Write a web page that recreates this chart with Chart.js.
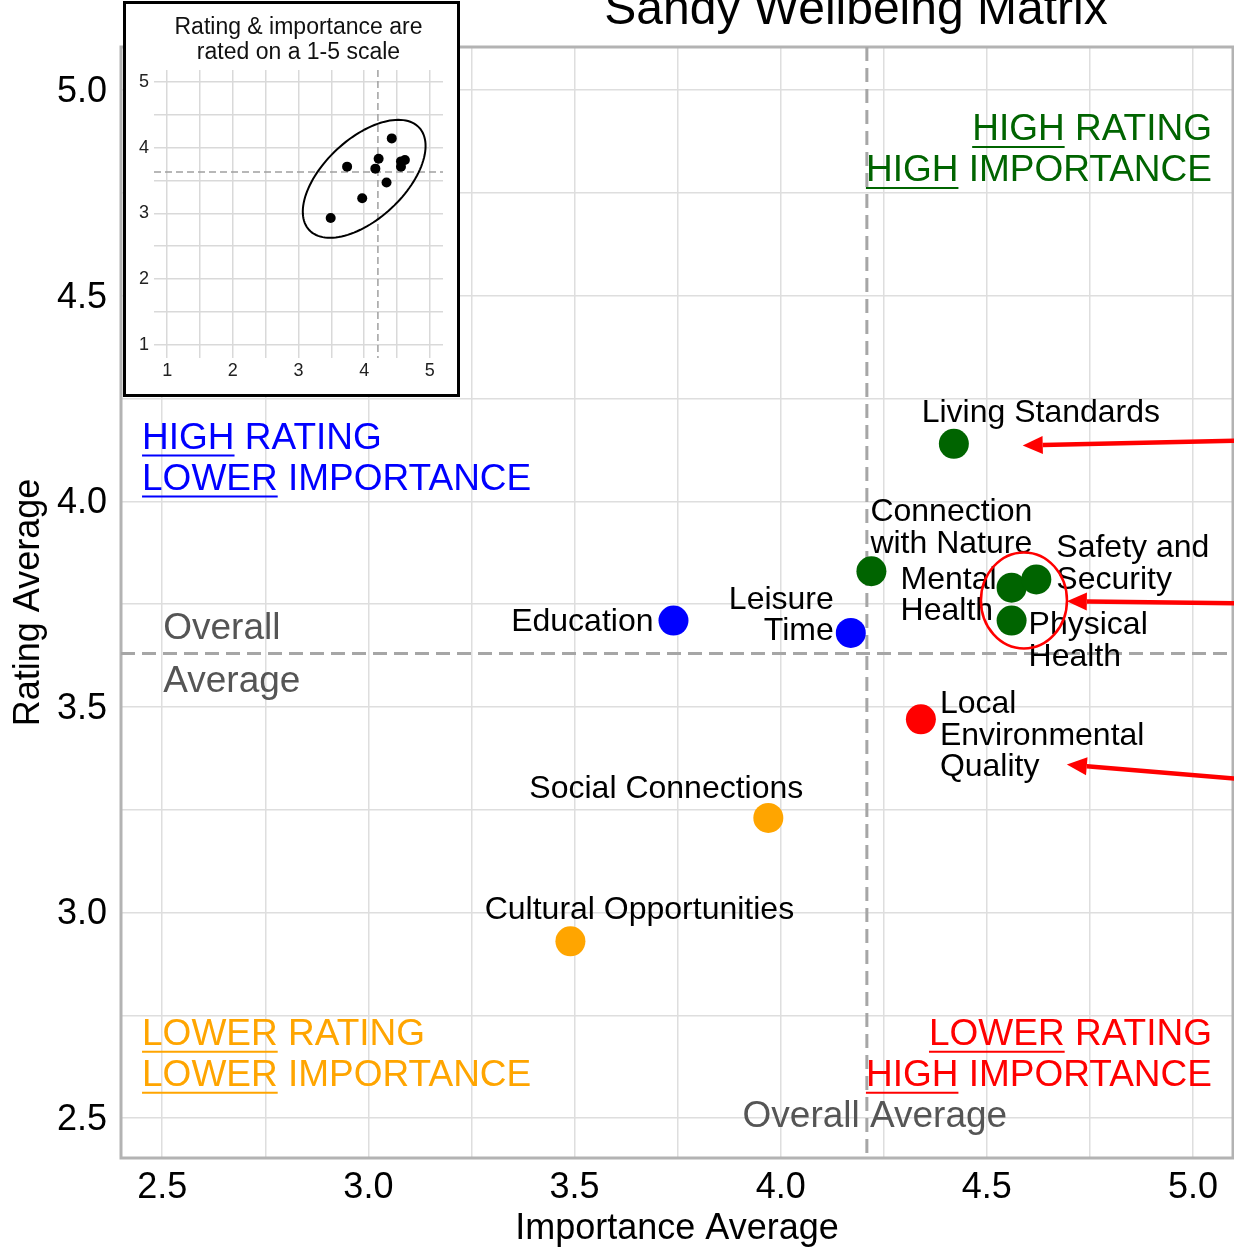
<!DOCTYPE html>
<html>
<head>
<meta charset="utf-8">
<title>Sandy Wellbeing Matrix</title>
<script src="https://cdn.jsdelivr.net/npm/chart.js@4.4.1/dist/chart.umd.min.js"></script>
<style>
  body { margin: 0; background: #fff; }
  #wrap { position: relative; width: 1234px; height: 1248px; }
  #inset { position: absolute; left: 123px; top: 1px; width: 337px; height: 396px;
           box-sizing: border-box; border: 3px solid #000; background: #fff; }
  canvas { display: block; }
</style>
</head>
<body>
<div id="wrap">
  <canvas id="matrixChart" width="1234" height="1248"></canvas>
  <div id="inset"><canvas id="insetChart" width="331" height="390"></canvas></div>
</div>
<script>
const FONT = "'Liberation Sans', Arial, Helvetica, sans-serif";

// values
const categories = ['Living Standards', 'Connection with Nature', 'Mental Health', 'Safety and Security',
  'Physical Health', 'Education', 'Leisure Time', 'Local Environmental Quality',
  'Social Connections', 'Cultural Opportunities'];
const importanceAvg = [4.42, 4.22, 4.56, 4.62, 4.56, 3.74, 4.17, 4.34, 3.97, 3.49];
const ratingAvg     = [4.14, 3.83, 3.79, 3.81, 3.71, 3.71, 3.68, 3.47, 3.23, 2.93];
const axisTickLabels = ['2.5', '3.0', '3.5', '4.0', '4.5', '5.0'];
const insetTickLabels = ['1', '2', '3', '4', '5'];

const mean = arr => arr.reduce((s, v) => s + v, 0) / arr.length;
const overallImportance = mean(importanceAvg);
const overallRating = mean(ratingAvg);

const GREEN = '#006400', BLUE = '#0000ff', ORANGE = '#ffa500', RED = '#ff0000';
function quadColor(i) {
  const hiImp = importanceAvg[i] >= overallImportance;
  const hiRate = ratingAvg[i] >= overallRating;
  if (hiImp && hiRate) return GREEN;
  if (!hiImp && hiRate) return BLUE;
  if (!hiImp && !hiRate) return ORANGE;
  return RED;
}

// label placement (pixel offsets from each point)
const pointLabels = {
  'Living Standards': { lines: ['Living Standards'], dx: 87, dy: -31, align: 'center' },
  'Connection with Nature': { lines: ['Connection', 'with Nature'], dx: -1, dy: -59, align: 'left' },
  'Mental Health': { lines: ['Mental', 'Health'], dx: -111, dy: -8, align: 'left' },
  'Safety and Security': { lines: ['Safety and', 'Security'], dx: 20, dy: -31, align: 'left' },
  'Physical Health': { lines: ['Physical', 'Health'], dx: 17, dy: 5, align: 'left' },
  'Education': { lines: ['Education'], dx: -20, dy: 2, align: 'right' },
  'Leisure Time': { lines: ['Leisure', 'Time'], dx: -17, dy: -33, align: 'right' },
  'Local Environmental Quality': { lines: ['Local', 'Environmental', 'Quality'], dx: 19, dy: -15, align: 'left' },
  'Social Connections': { lines: ['Social Connections'], dx: -102, dy: -29, align: 'center' },
  'Cultural Opportunities': { lines: ['Cultural Opportunities'], dx: 69, dy: -31, align: 'center' }
};

const quadrantNotes = [
  { color: GREEN, align: 'right', x: 5.046, y: 4.903, lines: [['HIGH', ' RATING'], ['HIGH', ' IMPORTANCE']] },
  { color: BLUE, align: 'left', x: 2.451, y: 4.153, lines: [['HIGH', ' RATING'], ['LOWER', ' IMPORTANCE']] },
  { color: ORANGE, align: 'left', x: 2.451, y: 2.703, lines: [['LOWER', ' RATING'], ['LOWER', ' IMPORTANCE']] },
  { color: RED, align: 'right', x: 5.046, y: 2.703, lines: [['LOWER', ' RATING'], ['HIGH', ' IMPORTANCE']] }
];

const arrows = [
  { from: [5.12, 4.148], to: [4.587, 4.136] },
  { from: [5.12, 3.752], to: [4.694, 3.757] },
  { from: [5.12, 3.324], to: [4.694, 3.360] }
];
const ring = { x: 4.59, y: 3.759, rx: 43, ry: 48 };
const insetEllipse = { cx: 4.00, cy: 3.525, u: [0.837, 0.779], v: [0.416, -0.445] };

Chart.defaults.font.family = FONT;
Chart.defaults.color = '#000';

const points = categories.map((c, i) => ({ x: importanceAvg[i], y: ratingAvg[i] }));

function tickCb(list) {
  return function (value) {
    const lbl = Number(value).toFixed(1);
    return Math.abs(value * 2 - Math.round(value * 2)) < 1e-6 && list.includes(lbl) ? lbl : '';
  };
}

// fixed axis sizes, no extra padding for edge labels
function fixSize(prop, size) {
  return s => {
    s[prop] = size;
    s.paddingLeft = 0; s.paddingRight = 0; s.paddingTop = 0; s.paddingBottom = 0;
  };
}

const matrixDecor = {
  id: 'matrixDecor',
  beforeDatasetsDraw(chart) {
    const { ctx, chartArea: a, scales: { x, y } } = chart;
    const ax = x.getPixelForValue(overallImportance);
    const ay = y.getPixelForValue(overallRating);
    ctx.save();
    ctx.strokeStyle = '#b3b3b3';
    ctx.lineWidth = 3;
    ctx.strokeRect(a.left, a.top, a.right - a.left, a.bottom - a.top);

    ctx.strokeStyle = '#a6a6a6';
    ctx.lineWidth = 3;
    ctx.setLineDash([14, 7]);
    ctx.beginPath();
    ctx.moveTo(ax, a.top); ctx.lineTo(ax, a.bottom);
    ctx.moveTo(a.left, ay); ctx.lineTo(a.right, ay);
    ctx.stroke();
    ctx.setLineDash([]);

    // overall average captions
    ctx.fillStyle = '#555';
    ctx.font = '37px ' + FONT;
    ctx.textBaseline = 'middle';
    ctx.textAlign = 'left';
    const lx = x.getPixelForValue(2.5) + 1;
    ctx.fillText('Overall', lx, ay - 25);
    ctx.fillText('Average', lx, ay + 28);
    ctx.textAlign = 'center';
    ctx.fillText('Overall Average', ax + 8, y.getPixelForValue(2.5) - 1);

    // quadrant notes
    quadrantNotes.forEach(n => {
      ctx.fillStyle = n.color;
      ctx.strokeStyle = n.color;
      ctx.lineWidth = 2;
      ctx.textAlign = 'left';
      const px = x.getPixelForValue(n.x);
      const py = y.getPixelForValue(n.y);
      n.lines.forEach((parts, i) => {
        const full = parts.join('');
        const w = ctx.measureText(full).width;
        const sx = n.align === 'right' ? px - w : px;
        const ly = py + i * 41;
        ctx.fillText(full, sx, ly);
        const uw = ctx.measureText(parts[0]).width;
        ctx.beginPath();
        ctx.moveTo(sx, ly + 17);
        ctx.lineTo(sx + uw, ly + 17);
        ctx.stroke();
      });
    });

    // point labels
    ctx.fillStyle = '#000';
    ctx.font = '32px ' + FONT;
    categories.forEach((c, i) => {
      const l = pointLabels[c];
      const px = x.getPixelForValue(importanceAvg[i]) + l.dx;
      const py = y.getPixelForValue(ratingAvg[i]) + l.dy;
      ctx.textAlign = l.align;
      l.lines.forEach((t, k) => ctx.fillText(t, px, py + k * 31.5));
    });
    ctx.restore();
  },
  afterDatasetsDraw(chart) {
    const { ctx, scales: { x, y } } = chart;
    ctx.save();
    ctx.strokeStyle = RED;
    ctx.lineWidth = 2.5;
    ctx.beginPath();
    ctx.ellipse(x.getPixelForValue(ring.x), y.getPixelForValue(ring.y), ring.rx, ring.ry, 0, 0, Math.PI * 2);
    ctx.stroke();

    ctx.fillStyle = RED;
    ctx.lineWidth = 4.5;
    arrows.forEach(ar => {
      const x0 = x.getPixelForValue(ar.from[0]), y0 = y.getPixelForValue(ar.from[1]);
      const x1 = x.getPixelForValue(ar.to[0]), y1 = y.getPixelForValue(ar.to[1]);
      const ang = Math.atan2(y1 - y0, x1 - x0);
      const head = 20, half = 9;
      const bx = x1 - head * Math.cos(ang), by = y1 - head * Math.sin(ang);
      ctx.beginPath();
      ctx.moveTo(x0, y0); ctx.lineTo(bx, by);
      ctx.stroke();
      ctx.beginPath();
      ctx.moveTo(x1, y1);
      ctx.lineTo(bx + half * Math.sin(ang), by - half * Math.cos(ang));
      ctx.lineTo(bx - half * Math.sin(ang), by + half * Math.cos(ang));
      ctx.closePath();
      ctx.fill();
    });
    ctx.restore();
  },
  afterDraw(chart) {
    const ctx = chart.ctx;
    ctx.save();
    ctx.fillStyle = '#000';
    ctx.font = '48px ' + FONT;
    ctx.textAlign = 'center';
    ctx.textBaseline = 'alphabetic';
    ctx.fillText('Sandy Wellbeing Matrix', 856, 24);
    ctx.restore();
  }
};

new Chart(document.getElementById('matrixChart'), {
  type: 'scatter',
  data: {
    datasets: [{
      data: points,
      backgroundColor: categories.map((c, i) => quadColor(i)),
      pointRadius: 15,
      pointHoverRadius: 15,
      borderWidth: 0
    }]
  },
  options: {
    responsive: false,
    animation: false,
    devicePixelRatio: 1,
    events: [],
    layout: { autoPadding: false, padding: { top: 47, right: 1, left: 0, bottom: 0 } },
    plugins: { legend: { display: false }, tooltip: { enabled: false } },
    scales: {
      x: {
        type: 'linear', min: 2.4, max: 5.097,
        ticks: { stepSize: 0.25, includeBounds: false, autoSkip: false, maxRotation: 0, padding: 8,
                 font: { size: 36 }, color: '#000', callback: tickCb(axisTickLabels) },
        grid: { color: '#dedede', lineWidth: 1.5, drawTicks: false },
        border: { display: false },
        title: { display: true, text: 'Importance Average', font: { size: 36 }, color: '#000',
                 padding: { top: 0, bottom: -3 } },
        afterFit: fixSize('height', 90)
      },
      y: {
        type: 'linear', min: 2.403, max: 5.105,
        ticks: { stepSize: 0.25, includeBounds: false, autoSkip: false, padding: 14, labelOffset: 2,
                 font: { size: 36 }, color: '#000', callback: tickCb(axisTickLabels) },
        grid: { color: '#dedede', lineWidth: 1.5, drawTicks: false },
        border: { display: false },
        title: { display: true, text: 'Rating Average', font: { size: 36 }, color: '#000',
                 padding: { top: 7, bottom: 0 } },
        afterFit: fixSize('width', 121)
      }
    }
  },
  plugins: [matrixDecor]
});

// inset overview on the full 1-5 scale
const insetDecor = {
  id: 'insetDecor',
  beforeDatasetsDraw(chart) {
    const { ctx, chartArea: a, scales: { x, y } } = chart;
    const ax = x.getPixelForValue(overallImportance);
    const ay = y.getPixelForValue(overallRating);
    ctx.save();
    ctx.strokeStyle = '#a0a0a0';
    ctx.lineWidth = 1.5;
    ctx.setLineDash([7, 4]);
    ctx.beginPath();
    ctx.moveTo(ax, a.top); ctx.lineTo(ax, a.bottom);
    ctx.moveTo(a.left, ay); ctx.lineTo(a.right, ay);
    ctx.stroke();
    ctx.restore();
  },
  afterDatasetsDraw(chart) {
    const { ctx, chartArea: a, scales: { x, y } } = chart;
    const e = insetEllipse;
    ctx.save();
    ctx.strokeStyle = '#000';
    ctx.lineWidth = 2;
    ctx.beginPath();
    for (let k = 0; k <= 120; k++) {
      const t = k / 120 * Math.PI * 2;
      const vx = e.cx + e.u[0] * Math.cos(t) + e.v[0] * Math.sin(t);
      const vy = e.cy + e.u[1] * Math.cos(t) + e.v[1] * Math.sin(t);
      const px = x.getPixelForValue(vx), py = y.getPixelForValue(vy);
      if (k === 0) ctx.moveTo(px, py); else ctx.lineTo(px, py);
    }
    ctx.closePath();
    ctx.stroke();

    ctx.fillStyle = '#111';
    ctx.font = '23px ' + FONT;
    ctx.textAlign = 'center';
    ctx.textBaseline = 'middle';
    const cx = (a.left + a.right) / 2;
    ctx.fillText('Rating & importance are', cx, 24);
    ctx.fillText('rated on a 1-5 scale', cx, 49);
    ctx.restore();
  }
};

function insetCb(value) {
  const lbl = String(Math.round(value));
  return Math.abs(value - Math.round(value)) < 1e-6 && insetTickLabels.includes(lbl) ? lbl : '';
}

new Chart(document.getElementById('insetChart'), {
  type: 'scatter',
  data: { datasets: [{ data: points, backgroundColor: '#000', pointRadius: 5, pointHoverRadius: 5, borderWidth: 0 }] },
  options: {
    responsive: false,
    animation: false,
    devicePixelRatio: 1,
    events: [],
    layout: { autoPadding: false, padding: { top: 66, right: 14, left: 0, bottom: 0 } },
    plugins: { legend: { display: false }, tooltip: { enabled: false } },
    scales: {
      x: {
        type: 'linear', min: 0.8, max: 5.2,
        ticks: { stepSize: 0.5, includeBounds: false, autoSkip: false, maxRotation: 0, padding: 2,
                 font: { size: 18 }, color: '#222', callback: insetCb },
        grid: { color: '#d9d9d9', lineWidth: 1.5, drawTicks: false },
        border: { display: false },
        afterFit: fixSize('height', 36)
      },
      y: {
        type: 'linear', min: 0.8, max: 5.18,
        ticks: { stepSize: 0.5, includeBounds: false, autoSkip: false, padding: 5,
                 font: { size: 18 }, color: '#222', callback: insetCb },
        grid: { color: '#d9d9d9', lineWidth: 1.5, drawTicks: false },
        border: { display: false },
        afterFit: fixSize('width', 28)
      }
    }
  },
  plugins: [insetDecor]
});
</script>
</body>
</html>
